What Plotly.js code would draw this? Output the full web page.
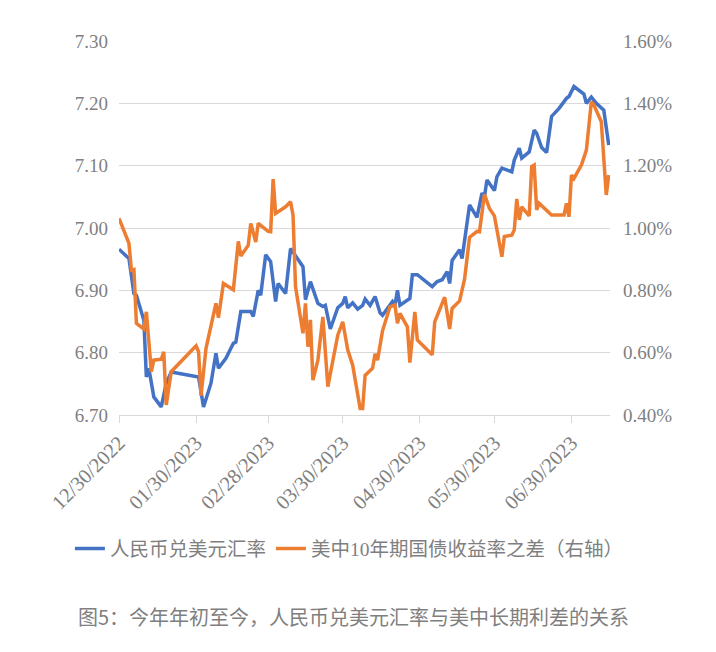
<!DOCTYPE html>
<html>
<head>
<meta charset="utf-8">
<script src="https://cdn.plot.ly/plotly-3.0.1.min.js"></script>
<style>
  html, body { margin: 0; padding: 0; background: #fff; }
  #chart { width: 716px; height: 652px; }
</style>
</head>
<body>
<div id="chart"></div>
<script>
// 人民币兑美元汇率 (left axis)
const cnyDates = [
  '2022-12-30', '2023-01-03', '2023-01-05', '2023-01-06', '2023-01-09', '2023-01-10', '2023-01-11',
  '2023-01-13', '2023-01-16', '2023-01-18', '2023-01-20', '2023-01-31', '2023-02-02', '2023-02-05',
  '2023-02-07', '2023-02-08', '2023-02-11', '2023-02-14', '2023-02-15', '2023-02-17', '2023-02-21',
  '2023-02-22', '2023-02-24', '2023-02-25', '2023-02-27', '2023-03-01', '2023-03-03', '2023-03-04',
  '2023-03-07', '2023-03-09', '2023-03-14', '2023-03-15', '2023-03-17', '2023-03-20', '2023-03-22',
  '2023-03-23', '2023-03-25', '2023-03-28', '2023-03-30', '2023-03-31', '2023-04-01', '2023-04-03',
  '2023-04-05', '2023-04-07', '2023-04-08', '2023-04-10', '2023-04-12', '2023-04-14', '2023-04-15',
  '2023-04-19', '2023-04-20', '2023-04-21', '2023-04-22', '2023-04-26', '2023-04-27', '2023-04-29',
  '2023-05-05', '2023-05-07', '2023-05-09', '2023-05-11', '2023-05-12', '2023-05-13', '2023-05-16',
  '2023-05-17', '2023-05-20', '2023-05-23', '2023-05-25', '2023-05-26', '2023-05-27', '2023-05-30',
  '2023-05-31', '2023-06-02', '2023-06-06', '2023-06-07', '2023-06-09', '2023-06-10', '2023-06-13',
  '2023-06-15', '2023-06-16', '2023-06-18', '2023-06-20', '2023-06-22', '2023-06-25', '2023-06-28',
  '2023-06-29', '2023-07-01', '2023-07-05', '2023-07-06', '2023-07-08', '2023-07-10', '2023-07-13',
  '2023-07-15'
];
const cnyValues = [
  6.966, 6.951, 6.895, 6.892, 6.852, 6.761, 6.775,
  6.729, 6.713, 6.751, 6.769, 6.761, 6.713, 6.751,
  6.799, 6.775, 6.791, 6.815, 6.817, 6.866, 6.866,
  6.858, 6.900, 6.892, 6.957, 6.946, 6.882, 6.911,
  6.895, 6.967, 6.938, 6.885, 6.914, 6.879, 6.874,
  6.876, 6.838, 6.872, 6.879, 6.890, 6.872, 6.880,
  6.870, 6.876, 6.886, 6.876, 6.890, 6.864, 6.860,
  6.882, 6.876, 6.900, 6.876, 6.887, 6.925, 6.925,
  6.906, 6.914, 6.917, 6.930, 6.911, 6.948, 6.965,
  6.951, 7.037, 7.017, 7.056, 7.050, 7.077, 7.060,
  7.082, 7.096, 7.090, 7.109, 7.128, 7.112, 7.122,
  7.157, 7.152, 7.129, 7.121, 7.179, 7.192, 7.208,
  7.211, 7.227, 7.215, 7.200, 7.210, 7.200, 7.189,
  7.133
];

// 美中10年期国债收益率之差, in % (right axis)
const spreadDates = [
  '2022-12-30', '2023-01-03', '2023-01-04', '2023-01-05', '2023-01-06', '2023-01-09', '2023-01-10',
  '2023-01-12', '2023-01-13', '2023-01-16', '2023-01-17', '2023-01-18', '2023-01-20', '2023-01-30',
  '2023-01-31', '2023-02-01', '2023-02-03', '2023-02-07', '2023-02-08', '2023-02-10', '2023-02-14',
  '2023-02-16', '2023-02-17', '2023-02-20', '2023-02-21', '2023-02-23', '2023-02-24', '2023-02-28',
  '2023-03-01', '2023-03-02', '2023-03-03', '2023-03-06', '2023-03-07', '2023-03-09', '2023-03-10',
  '2023-03-11', '2023-03-14', '2023-03-15', '2023-03-16', '2023-03-17', '2023-03-18', '2023-03-20',
  '2023-03-22', '2023-03-24', '2023-03-28', '2023-03-30', '2023-04-01', '2023-04-03', '2023-04-06',
  '2023-04-07', '2023-04-08', '2023-04-11', '2023-04-12', '2023-04-13', '2023-04-15', '2023-04-18',
  '2023-04-20', '2023-04-21', '2023-04-22', '2023-04-25', '2023-04-26', '2023-04-28', '2023-04-29',
  '2023-05-05', '2023-05-06', '2023-05-10', '2023-05-12', '2023-05-13', '2023-05-16', '2023-05-18',
  '2023-05-20', '2023-05-23', '2023-05-24', '2023-05-26', '2023-05-28', '2023-05-30', '2023-06-01',
  '2023-06-02', '2023-06-03', '2023-06-06', '2023-06-07', '2023-06-08', '2023-06-09', '2023-06-10',
  '2023-06-13', '2023-06-14', '2023-06-15', '2023-06-16', '2023-06-17', '2023-06-22', '2023-06-27',
  '2023-06-28', '2023-06-29', '2023-06-30', '2023-07-01', '2023-07-04', '2023-07-06', '2023-07-08',
  '2023-07-09', '2023-07-12', '2023-07-14', '2023-07-15'
];
const spreadValues = [
  1.031, 0.951, 0.865, 0.867, 0.694, 0.676, 0.731,
  0.539, 0.576, 0.579, 0.603, 0.432, 0.539, 0.622,
  0.603, 0.462, 0.614, 0.758, 0.712, 0.822, 0.802,
  0.957, 0.910, 0.945, 1.015, 0.955, 1.015, 0.989,
  0.988, 1.157, 1.047, 1.063, 1.068, 1.084, 1.042,
  0.812, 0.662, 0.758, 0.619, 0.705, 0.512, 0.576,
  0.715, 0.491, 0.656, 0.699, 0.609, 0.560, 0.421,
  0.421, 0.527, 0.550, 0.596, 0.576, 0.670, 0.747,
  0.753, 0.694, 0.726, 0.683, 0.568, 0.731, 0.641,
  0.593, 0.699, 0.778, 0.676, 0.742, 0.766, 0.836,
  0.970, 0.989, 0.988, 1.108, 1.063, 1.039, 0.953,
  0.908, 0.973, 0.977, 0.994, 1.093, 1.026, 1.068,
  1.039, 1.197, 1.202, 1.058, 1.079, 1.042, 1.042,
  1.079, 1.036, 1.170, 1.159, 1.202, 1.250, 1.405,
  1.395, 1.341, 1.106, 1.170
];

const xTicks = ['2022-12-30', '2023-01-30', '2023-02-28', '2023-03-30', '2023-04-30', '2023-05-30', '2023-06-30'];
const xTickText = ['12/30/2022', '01/30/2023', '02/28/2023', '03/30/2023', '04/30/2023', '05/30/2023', '06/30/2023'];

const seriesNames = ['人民币兑美元汇率', '美中10年期国债收益率之差（右轴）'];
const caption = '图5：今年年初至今，人民币兑美元汇率与美中长期利差的关系';

const serif = 'Liberation Serif';
const legendFont = 'Liberation Serif, Noto Sans CJK SC';
const cjk = 'Noto Sans CJK SC';
const grey = '#7f7f7f';

const traces = [
  {
    x: cnyDates, y: cnyValues, name: seriesNames[0],
    type: 'scatter', mode: 'lines',
    line: { color: '#4472C4', width: 3.5 }
  },
  {
    x: spreadDates, y: spreadValues, name: seriesNames[1],
    type: 'scatter', mode: 'lines', yaxis: 'y2',
    line: { color: '#ED7D31', width: 3.5 }
  }
];

const layout = {
  width: 716, height: 652,
  margin: { l: 119, r: 106, t: 41, b: 237 },
  paper_bgcolor: '#fff', plot_bgcolor: '#fff',
  showlegend: true,
  xaxis: {
    type: 'date',
    range: ['2022-12-30', '2023-07-15 12:00'],
    tickvals: xTicks, ticktext: xTickText,
    tickangle: -45,
    tickfont: { family: serif, size: 20.5, color: grey },
    showgrid: false, zeroline: false,
    showline: true, linecolor: '#d9d9d9', linewidth: 1,
    ticks: 'outside', ticklen: 7, tickcolor: '#d9d9d9'
  },
  yaxis: {
    range: [6.70, 7.30], dtick: 0.1, tick0: 6.7,
    tickformat: '.2f',
    tickfont: { family: serif, size: 19, color: grey },
    gridcolor: '#d9d9d9', gridwidth: 1,
    zeroline: false, showline: false,
    ticks: '', ticklabelstandoff: 10
  },
  yaxis2: {
    overlaying: 'y', side: 'right',
    range: [0.40, 1.60], dtick: 0.2, tick0: 0.4,
    tickformat: '.2f', ticksuffix: '%',
    tickfont: { family: serif, size: 19, color: grey },
    showgrid: false, zeroline: false, showline: false,
    ticks: '', ticklabelstandoff: 12
  },
  legend: {
    orientation: 'h',
    x: -0.1, xanchor: 'left',
    y: -0.358, yanchor: 'middle',
    font: { family: legendFont, size: 19.5, color: grey },
    itemwidth: 30
  },
  annotations: [{
    xref: 'paper', yref: 'paper',
    x: -0.087, y: -0.54, xanchor: 'left', yanchor: 'middle',
    text: caption, showarrow: false,
    font: { family: cjk, size: 20, color: grey }
  }]
};

Plotly.newPlot('chart', traces, layout, { displayModeBar: false, staticPlot: true });
</script>
</body>
</html>
